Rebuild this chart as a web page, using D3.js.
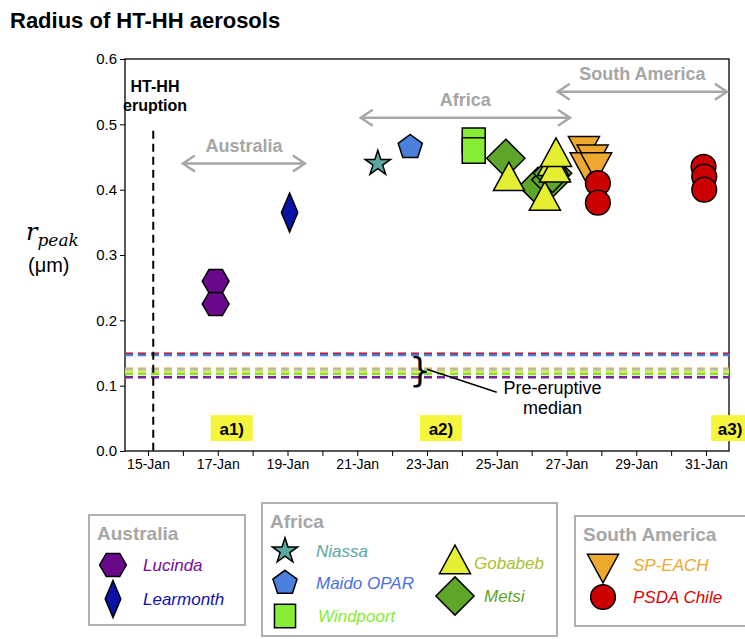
<!DOCTYPE html><html><head><meta charset="utf-8"><script src="https://cdn.jsdelivr.net/npm/d3@7"></script>
<style>body{margin:0;background:#fff;font-family:"Liberation Sans",Arial,sans-serif}</style></head><body><svg id="c" width="745" height="639"></svg>
<script>
const xTicks=[15,17,19,21,23,25,27,29,31];
const yTicks=[0,0.1,0.2,0.3,0.4,0.5,0.6];
const lucinda=[[16.94,0.26],[16.94,0.225]];
const learmonth=[[19.06,0.365]];
const niassa=[[21.59,0.44]];
const maido=[[22.52,0.465]];
const windpoort=[[24.34,0.475],[24.34,0.46]];
const metsi=[[25.26,0.448],[26.18,0.405],[26.55,0.415],[26.6,0.425]];
const gobabeb=[[25.35,0.415],[26.38,0.385],[26.62,0.438],[26.67,0.428],[26.7,0.452]];
const speach=[[27.5,0.465],[27.55,0.44],[27.75,0.452],[27.85,0.44]];
const psda=[[27.9,0.41],[27.9,0.38],[30.93,0.435],[30.95,0.42],[30.95,0.40]];
const medians=[[0.149,"#d0021b"],[0.147,"#4a7bd8"],[0.126,"#f0a830"],[0.124,"#9fc8e0"],[0.121,"#e6ef3a"],[0.118,"#86e03a"],[0.113,"#7a1f9a"]];
const svg=d3.select("#c");
const x=d3.scaleLinear().domain([14.34,31.66]).range([125,729]);
const y=d3.scaleLinear().domain([0,0.6]).range([451,59]);
svg.append("text").attr("x",10).attr("y",28).attr("font-size",22).attr("font-weight","bold").text("Radius of HT-HH aerosols");
svg.append("rect").attr("x",125).attr("y",59).attr("width",604).attr("height",392).attr("fill","none").attr("stroke","#000").attr("stroke-width",1.3);
const mon=d=>d+"-Jan";
svg.append("g").attr("transform","translate(0,451)").call(d3.axisBottom(x).tickValues(d3.range(15,32)).tickFormat(d=>d%2?mon(d):"").tickSize(5)).call(g=>{g.select(".domain").remove();g.selectAll("text").attr("font-size",14).attr("fill","#000");});
svg.append("g").attr("transform","translate(125,0)").call(d3.axisLeft(y).tickValues(yTicks).tickFormat(d3.format(".1f")).tickSize(5)).call(g=>{g.select(".domain").remove();g.selectAll("text").attr("font-size",15).attr("fill","#000");});
svg.append("text").attr("x",26).attr("y",240).attr("font-size",24).attr("font-family","DejaVu Serif").attr("font-style","italic").html('r<tspan font-size="17" dy="6">peak</tspan>');
svg.append("text").attr("x",28).attr("y",272).attr("font-size",20).text("(μm)");
medians.forEach(([v,c])=>svg.append("line").attr("x1",125).attr("x2",729).attr("y1",y(v)).attr("y2",y(v)).attr("stroke",c).attr("stroke-width",2.5).attr("stroke-dasharray","8,5"));
svg.append("line").attr("x1",x(15.15)).attr("x2",x(15.15)).attr("y1",y(0.49)).attr("y2",451).attr("stroke","#000").attr("stroke-width",2).attr("stroke-dasharray","8,5");
svg.append("text").attr("x",155).attr("y",92).attr("text-anchor","middle").attr("font-size",16).attr("font-weight","bold").text("HT-HH");
svg.append("text").attr("x",155).attr("y",111).attr("text-anchor","middle").attr("font-size",16).attr("font-weight","bold").text("eruption");
function arrow(a,b,v,label){const yy=y(v);const g=svg.append("g").attr("stroke","#a6a6a6").attr("stroke-width",2.5).attr("fill","none");
g.append("line").attr("x1",x(a)+2).attr("x2",x(b)-2).attr("y1",yy).attr("y2",yy);
g.append("path").attr("d",`M${x(a)+12},${yy-8}L${x(a)},${yy}L${x(a)+12},${yy+8}`);
g.append("path").attr("d",`M${x(b)-12},${yy-8}L${x(b)},${yy}L${x(b)-12},${yy+8}`);
svg.append("text").attr("x",(x(a)+x(b))/2).attr("y",yy-12).attr("text-anchor","middle").attr("font-size",18).attr("font-weight","bold").attr("fill","#a6a6a6").text(label);}
arrow(16.0,19.5,0.44,"Australia");arrow(21.1,27.1,0.51,"Africa");arrow(26.75,31.6,0.55,"South America");
svg.append("text").attr("x",x(22.8)).attr("y",y(0.12)).attr("font-size",34).attr("text-anchor","middle").attr("dominant-baseline","middle").attr("font-family","DejaVu Sans").text("}");
svg.append("line").attr("x1",x(23.0)).attr("y1",y(0.125)).attr("x2",x(25.0)).attr("y2",y(0.09)).attr("stroke","#000").attr("stroke-width",1.5);
svg.append("text").attr("x",x(26.6)).attr("y",y(0.088)).attr("text-anchor","middle").attr("font-size",18).text("Pre-eruptive");
svg.append("text").attr("x",x(26.6)).attr("y",y(0.056)).attr("text-anchor","middle").attr("font-size",18).text("median");
[[17.4,"a1)",0],[23.4,"a2)",0],[31.75,"a3)",1]].forEach(([d,t,e])=>{const xx=x(d);svg.append("rect").attr("x",xx-21).attr("y",y(0.035)-13).attr("width",e?37:42).attr("height",26).attr("fill","#f5f53c");svg.append("text").attr("x",xx+(e?-2:0)).attr("y",y(0.035)+7).attr("text-anchor","middle").attr("font-size",17).attr("font-weight","bold").text(t);});
const sym={
diam:{draw(c,s){const r=Math.sqrt(s);c.moveTo(0,-r*0.95);c.lineTo(r*0.4,0);c.lineTo(0,r*0.95);c.lineTo(-r*0.4,0);c.closePath();}},
wdiam:{draw(c,s){const r=Math.sqrt(s)*0.75;c.moveTo(0,-r);c.lineTo(r,0);c.lineTo(0,r);c.lineTo(-r,0);c.closePath();}},
tri:{draw(c,s){const r=Math.sqrt(s)*0.7;c.moveTo(0,-r);c.lineTo(r*0.87,r*0.6);c.lineTo(-r*0.87,r*0.6);c.closePath();}},
dtri:{draw(c,s){const r=Math.sqrt(s)*0.7;c.moveTo(0,r);c.lineTo(r*0.87,-r*0.6);c.lineTo(-r*0.87,-r*0.6);c.closePath();}},
rect:{draw(c,s){const r=Math.sqrt(s)/2;c.rect(-r*0.9,-r,r*1.8,r*2);}},
pent:{draw(c,s){const r=Math.sqrt(s)*0.62;for(let i=0;i<5;i++){const a=-Math.PI/2+i*2*Math.PI/5;i?c.lineTo(r*Math.cos(a),r*Math.sin(a)):c.moveTo(r*Math.cos(a),r*Math.sin(a));}c.closePath();}},
hex:{draw(c,s){const r=Math.sqrt(s)*0.6;for(let i=0;i<6;i++){const a=Math.PI/3*i;i?c.lineTo(r*Math.cos(a),r*Math.sin(a)):c.moveTo(r,0);}c.closePath();}}};
const series=[[lucinda,"hex","#6a0a8a",500],[learmonth,"diam","#0a12a8",420],[niassa,d3.symbolStar,"#5aa8a0",200],[maido,"pent","#4a80dc",420],[windpoort,"rect","#86ec34",650],[metsi,"wdiam","#5ea62a",650],[gobabeb,"tri","#e4ef32",650],[speach,"dtri","#eea82e",650],[psda,d3.symbolCircle,"#cc0000",480]];
function mk(t,s){return d3.symbol().type(typeof t==="string"?sym[t]:t).size(s)();}
series.forEach(([data,t,c,s])=>svg.append("g").selectAll("path").data(data).join("path").attr("transform",d=>`translate(${x(d[0])},${y(d[1])})`).attr("d",mk(t,s)).attr("fill",c).attr("stroke","#000").attr("stroke-width",1.5));
function box(x0,y0,w,h,title){svg.append("rect").attr("x",x0).attr("y",y0).attr("width",w).attr("height",h).attr("fill","#fff").attr("stroke","#b0b0b0").attr("stroke-width",2);svg.append("text").attr("x",x0+8).attr("y",y0+25).attr("font-size",19).attr("font-weight","bold").attr("fill","#a6a6a6").text(title);}
box(89,515,156,110,"Australia");box(262,503,295,133,"Africa");box(575,516,175,110,"South America");
function li(px,py,t,c,s,label,tc,lx){svg.append("path").attr("transform",`translate(${px},${py})`).attr("d",mk(t,s)).attr("fill",c).attr("stroke","#000").attr("stroke-width",1.5);svg.append("text").attr("x",lx).attr("y",py+6).attr("font-size",17).attr("font-style","italic").attr("fill",tc).text(label);}
li(113,565,"hex","#6a0a8a",500,"Lucinda","#7a0a9a",143);
li(113,599,"diam","#0a12a8",380,"Learmonth","#1010b0",143);
li(285,551,d3.symbolStar,"#5aa8a0",200,"Niassa","#5aa8a0",316);
li(285,583,"pent","#4a80dc",420,"Maido OPAR","#4a70e8",316);
li(285,616,"rect","#86ec34",550,"Windpoort","#86ec34",318);
li(455,563,"tri","#e4ef32",650,"Gobabeb","#a8c232",474);
li(455,596,"wdiam","#5ea62a",650,"Metsi","#5ea62a",484);
li(603,565,"dtri","#eea82e",650,"SP-EACH","#eea82e",633);
li(603,597,d3.symbolCircle,"#cc0000",480,"PSDA Chile","#dd0000",633);
</script></body></html>
